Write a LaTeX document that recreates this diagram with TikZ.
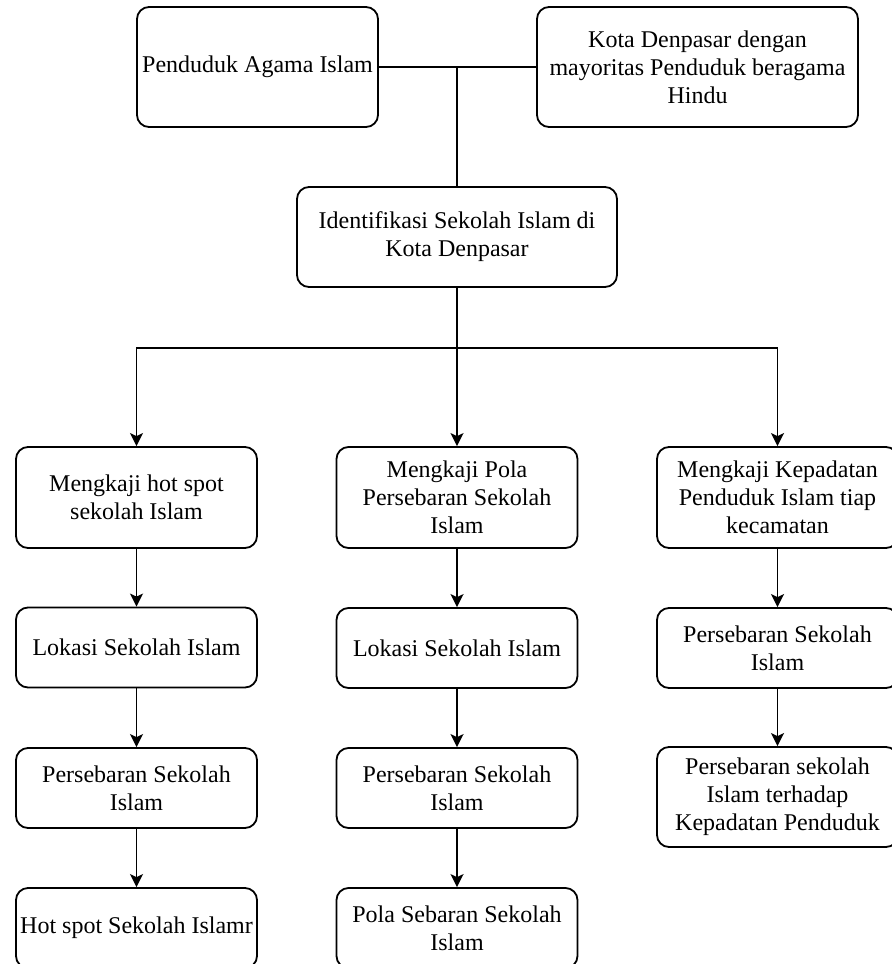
\documentclass[tikz,border=0pt]{standalone}
\usepackage{fontspec}
\setmainfont{Liberation Serif}
\usetikzlibrary{arrows.meta}

\tikzset{
	box/.style={draw, line width=0.9pt, rounded corners=6pt, align=center,
		font=\fontsize{12}{14}\selectfont, inner sep=2pt,
		minimum width=120.5pt, minimum height=40pt},
	tall/.style={minimum height=50.5pt},
	arr/.style={-{Stealth[length=6.5pt,width=6.5pt,inset=1.5pt]}, line width=0.9pt},
	line/.style={line width=0.9pt}
}

\begin{document}
\begin{tikzpicture}[x=0.5pt,y=-0.5pt]
	\useasboundingbox (0,0) rectangle (892,964);
	% top
	\node[box, minimum height=60pt] (pendudukIslam) at (257.5,67) {Penduduk Agama Islam};
	\node[box, minimum width=160.5pt, minimum height=60pt] (kotaDenpasar) at (697.5,67) {Kota Denpasar dengan\\ mayoritas Penduduk beragama\\ Hindu};
	\node[box, minimum width=160pt, minimum height=50pt] (identifikasi) at (457,237) {Identifikasi Sekolah Islam di\\ Kota Denpasar};
	% left column
	\node[box, tall] (hotspot) at (136.5,497.5) {Mengkaji hot spot\\ sekolah Islam};
	\node[box] (lokasiA) at (136.5,647.5) {Lokasi Sekolah Islam};
	\node[box] (sebaranA) at (136.5,788) {Persebaran Sekolah\\ Islam};
	\node[box] (hotspotIslam) at (136.5,928) {Hot spot Sekolah Islamr};
	% middle column
	\node[box, tall] (pola) at (457,497.5) {Mengkaji Pola\\ Persebaran Sekolah\\ Islam};
	\node[box] (lokasiB) at (457,648) {Lokasi Sekolah Islam};
	\node[box] (sebaranB) at (457,788) {Persebaran Sekolah\\ Islam};
	\node[box] (polaSebaran) at (457,928) {Pola Sebaran Sekolah\\ Islam};
	% right column
	\node[box, tall] (kepadatan) at (777.5,497.5) {Mengkaji Kepadatan\\ Penduduk Islam tiap\\ kecamatan};
	\node[box] (sebaranC) at (777.5,648) {Persebaran Sekolah\\ Islam};
	\node[box, minimum height=50pt] (kepadatanPenduduk) at (777.5,797) {Persebaran sekolah\\ Islam terhadap\\ Kepadatan Penduduk};

	\coordinate (join) at (457,67);
	\coordinate (split) at (457,348);
	\draw[line] (pendudukIslam.east) -- (kotaDenpasar.west);
	\draw[line] (join) -- (identifikasi.north);
	\draw[line] (identifikasi.south) -- (split);
	\draw[arr] (split) -| (hotspot.north);
	\draw[arr] (split) -- (pola.north);
	\draw[arr] (split) -| (kepadatan.north);

	\draw[arr] (hotspot) -- (lokasiA);
	\draw[arr] (lokasiA) -- (sebaranA);
	\draw[arr] (sebaranA) -- (hotspotIslam);
	\draw[arr] (pola) -- (lokasiB);
	\draw[arr] (lokasiB) -- (sebaranB);
	\draw[arr] (sebaranB) -- (polaSebaran);
	\draw[arr] (kepadatan) -- (sebaranC);
	\draw[arr] (sebaranC) -- (kepadatanPenduduk);
\end{tikzpicture}
\end{document}
